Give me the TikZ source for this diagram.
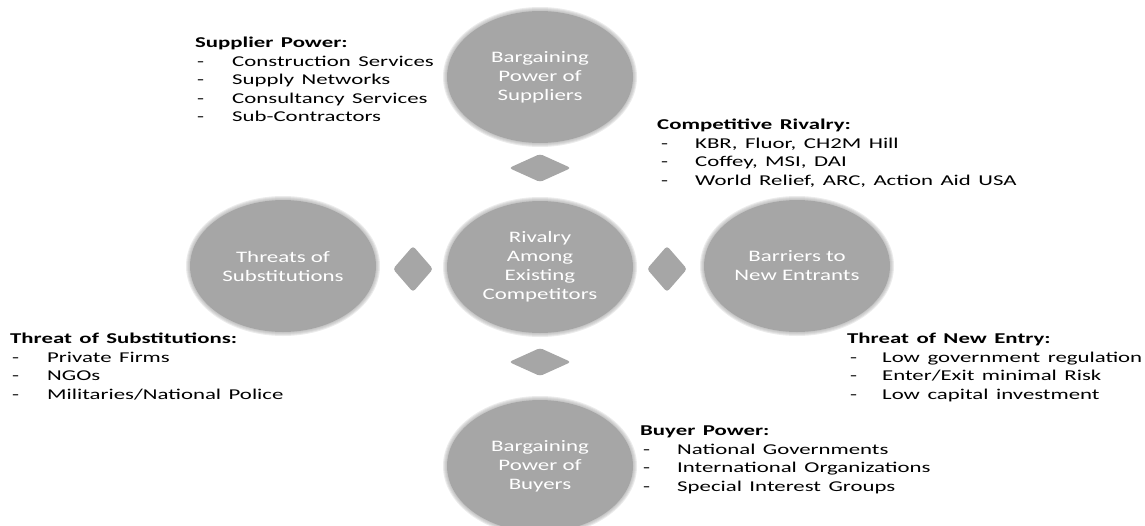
\documentclass[tikz,border=0pt]{standalone}
\usepackage{fontspec}
\setmainfont{Carlito}[FakeStretch=1.43]
\newfontfamily\listfont{Carlito}[FakeStretch=1.52]
\usetikzlibrary{shapes.geometric}
\definecolor{bubblegray}{RGB}{166,166,166}
\newcommand\myWideSp{\spaceskip=7.5pt\relax}
\begin{document}
\begin{tikzpicture}[x=1pt,y=-1pt,
  bubble/.style={ellipse, fill=bubblegray, minimum width=186pt, minimum height=132pt, inner sep=0pt, text=white, font=\fontsize{16}{19}\selectfont, align=center},
  head/.style={anchor=west, font=\fontsize{15}{18}\selectfont\listfont\bfseries\myWideSp, inner sep=0pt, text height=10pt, text depth=3pt},
  item/.style={anchor=west, font=\fontsize{15}{18}\selectfont\listfont\myWideSp, inner sep=0pt, text height=10pt, text depth=3pt},
  gem/.style={fill=bubblegray, rounded corners=3pt}]
\useasboundingbox (0,0) rectangle (1145,525);
% soft edges of the bubbles
\foreach \cx/\cy in {540/77, 283/266, 540/267, 797/266, 540/466}{
  \foreach \d in {4,3,2,1}
    \fill[bubblegray, opacity=0.22] (\cx,\cy) ellipse [x radius=93+\d, y radius=66+\d];
}
% bubbles
\node[bubble] (sup) at (540,77) {Bargaining\\Power of\\Suppliers};
\node[bubble] (sub) at (283,266) {Threats of\\Substitutions};
\node[bubble] (riv) at (540,267) {Rivalry\\Among\\Existing\\Competitors};
\node[bubble] (ent) at (797,266) {Barriers to\\New Entrants};
\node[bubble] (buy) at (540,466) {Bargaining\\Power of\\Buyers};
% diamonds
\fill[gem] (540,154) -- (571,168) -- (540,182) -- (509,168) -- cycle;
\fill[gem] (540,348) -- (571,362) -- (540,376) -- (509,362) -- cycle;
\fill[gem] (413,246) -- (433,269) -- (413,292) -- (393,269) -- cycle;
\fill[gem] (667,246) -- (687,269) -- (667,292) -- (647,269) -- cycle;
% Supplier power
\node[head] (h1) at (195,44) {Supplier Power:};
\node[item] (d11) at (197,62.6) {-}; \node[item] (t11) at (232,62.6) {Construction Services};
\node[item] (d12) at (197,81.2) {-}; \node[item] (t12) at (232,81.2) {Supply Networks};
\node[item] (d13) at (197,99.8) {-}; \node[item] (t13) at (232,99.8) {Consultancy Services};
\node[item] (d14) at (197,118.4) {-}; \node[item] (t14) at (232,118.4) {Sub-Contractors};
% Competitive rivalry
\node[head] (h2) at (657,126) {Competitive Rivalry:};
\node[item] (d21) at (661,144.6) {-}; \node[item] (t21) at (695,144.6) {KBR, Fluor, CH2M Hill};
\node[item] (d22) at (661,163.2) {-}; \node[item] (t22) at (695,163.2) {Coffey, MSI, DAI};
\node[item] (d23) at (661,181.8) {-}; \node[item] (t23) at (695,181.8) {World Relief, ARC, Action Aid USA};
% Threat of substitutions
\node[head] (h3) at (10,340) {Threat of Substitutions:};
\node[item] (d31) at (12,358.6) {-}; \node[item] (t31) at (47,358.6) {Private Firms};
\node[item] (d32) at (12,377.2) {-}; \node[item] (t32) at (47,377.2) {NGOs};
\node[item] (d33) at (12,395.8) {-}; \node[item] (t33) at (47,395.8) {Militaries/National Police};
% Threat of new entry
\node[head] (h4) at (847,340) {Threat of New Entry:};
\node[item] (d41) at (850,358.6) {-}; \node[item] (t41) at (882,358.6) {Low government regulation};
\node[item] (d42) at (850,377.2) {-}; \node[item] (t42) at (882,377.2) {Enter/Exit minimal Risk};
\node[item] (d43) at (850,395.8) {-}; \node[item] (t43) at (882,395.8) {Low capital investment};
% Buyer power
\node[head] (h5) at (640,432) {Buyer Power:};
\node[item] (d51) at (643,450.6) {-}; \node[item] (t51) at (677,450.6) {National Governments};
\node[item] (d52) at (643,469.2) {-}; \node[item] (t52) at (677,469.2) {International Organizations};
\node[item] (d53) at (643,487.8) {-}; \node[item] (t53) at (677,487.8) {Special Interest Groups};
\end{tikzpicture}
\end{document}
